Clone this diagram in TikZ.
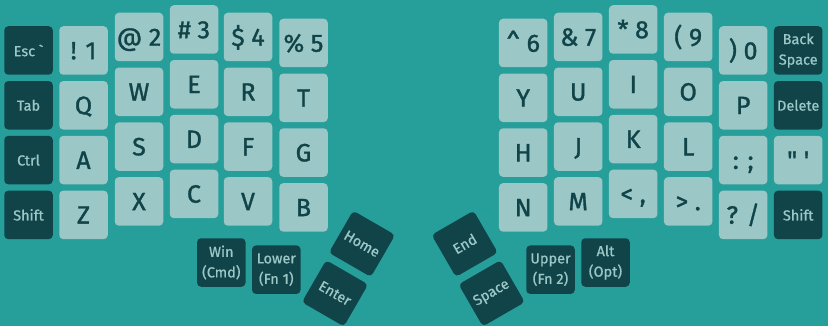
\documentclass[tikz,border=0pt]{standalone}
\usepackage{fontspec}
\newfontfamily\kf{Fira Sans}[FakeBold=1.3]
\newfontfamily\kfs{Fira Sans}[FakeBold=0.8]
\definecolor{bg}{HTML}{269E9A}
\definecolor{keyl}{HTML}{9BC7C6}
\definecolor{keyd}{HTML}{114449}
\tikzset{
  keybase/.style={rounded corners=4pt, minimum width=48.5pt, minimum height=48.5pt, inner sep=0pt, align=center},
  lk/.style={keybase, fill=keyl, text=keyd, font=\kf\fontsize{25}{25}\selectfont, text height=17.5pt, text depth=0pt},
  dk/.style={keybase, fill=keyd, text=keyl, font=\kfs\fontsize{14.5}{20.5}\selectfont},
}
\begin{document}
\begin{tikzpicture}[x=1pt,y=-1pt]
\fill[bg] (0,0) rectangle (828,326);
\useasboundingbox (0,0) rectangle (828,326);
% left half
\node[dk] (esc)  at (28.5,50.5)  {Esc `};
\node[dk] (tab)  at (28.5,105.3) {Tab};
\node[dk] (ctrl) at (28.5,160.1) {Ctrl};
\node[dk] (lsh)  at (28.5,214.9) {Shift};
\node[lk] (k1) at (83.5,50.5)  {! 1};
\node[lk] (kq) at (83.5,105.3) {Q};
\node[lk] (ka) at (83.5,160.1) {A};
\node[lk] (kz) at (83.5,214.9) {Z};
\node[lk] (k2) at (139,37)    {@ 2};
\node[lk] (kw) at (139,91.8)  {W};
\node[lk] (ks) at (139,146.6) {S};
\node[lk] (kx) at (139,201.4) {X};
\node[lk] (k3) at (194,29.5)  {\# 3};
\node[lk] (ke) at (194,84.3)  {E};
\node[lk] (kd) at (194,139.1) {D};
\node[lk] (kc) at (194,193.9) {C};
\node[lk] (k4) at (248,37)    {\$ 4};
\node[lk] (kr) at (248,91.8)  {R};
\node[lk] (kf) at (248,146.6) {F};
\node[lk] (kv) at (248,201.4) {V};
\node[lk] (k5) at (303.5,43)    {\% 5};
\node[lk] (kt) at (303.5,97.8)  {T};
\node[lk] (kg) at (303.5,152.6) {G};
\node[lk] (kb) at (303.5,207.4) {B};
% left thumb
\node[dk] (win)   at (221.3,262.5) {Win\\(Cmd)};
\node[dk] (lower) at (276.3,269.7) {Lower\\(Fn 1)};
\node[dk,rotate=-30] (home)  at (362,243.8) {Home};
\node[dk,rotate=-30] (enter) at (335,293.3) {Enter};
% right half
\node[dk] (bsp)  at (798.2,50.5)  {Back\\Space};
\node[dk] (del)  at (798.2,105.3) {Delete};
\node[lk] (kqu)  at (798.2,160.1) {" '};
\node[dk] (rsh)  at (798.2,214.9) {Shift};
\node[lk] (k0) at (743.2,50.5)  {) 0};
\node[lk] (kp) at (743.2,105.3) {P};
\node[lk] (ksc) at (743.2,160.1) {: ;};
\node[lk] (ksl) at (743.2,214.9) {? /};
\node[lk] (k9) at (688.2,37)    {( 9};
\node[lk] (ko) at (688.2,91.8)  {O};
\node[lk] (kl) at (688.2,146.6) {L};
\node[lk] (kdot) at (688.2,201.4) {> .};
\node[lk] (k8) at (633.2,29.5)  {* 8};
\node[lk] (ki) at (633.2,84.3)  {I};
\node[lk] (kk) at (633.2,139.1) {K};
\node[lk] (kcom) at (633.2,193.9) {< ,};
\node[lk] (k7) at (578.2,37)    {\& 7};
\node[lk] (ku) at (578.2,91.8)  {U};
\node[lk] (kj) at (578.2,146.6) {J};
\node[lk] (km) at (578.2,201.4) {M};
\node[lk] (k6) at (523.2,43)    {\textasciicircum{} 6};
\node[lk] (ky) at (523.2,97.8)  {Y};
\node[lk] (kh) at (523.2,152.6) {H};
\node[lk] (kn) at (523.2,207.4) {N};
% right thumb
\node[dk] (upper) at (550.5,269.7) {Upper\\(Fn 2)};
\node[dk] (alt)   at (605.5,262.5) {Alt\\(Opt)};
\node[dk,rotate=30] (endk)  at (464.7,243.8) {End};
\node[dk,rotate=30] (space) at (491.7,293.3) {Space};
\end{tikzpicture}
\end{document}
